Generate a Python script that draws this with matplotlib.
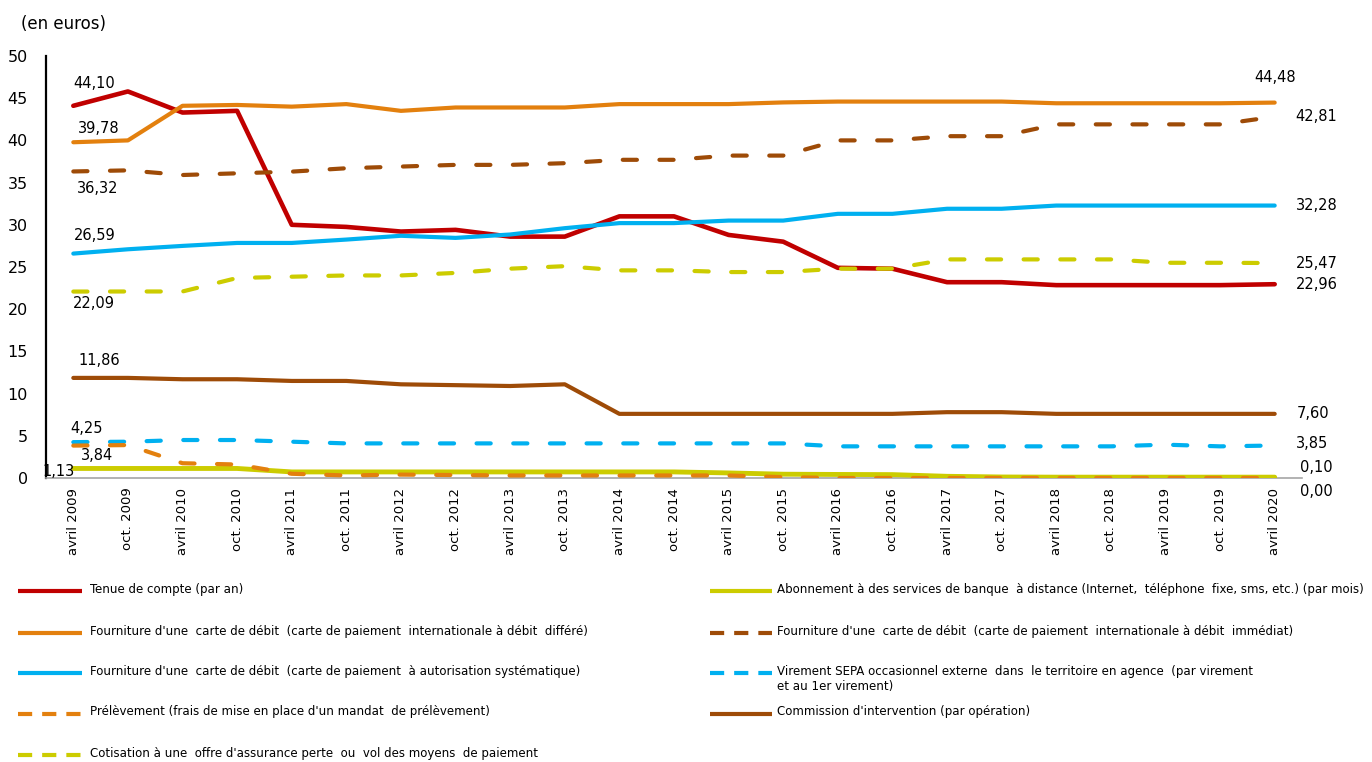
import matplotlib
matplotlib.use("Agg")
import matplotlib.pyplot as plt
import numpy as np

periods = ["avril 2009", "oct. 2009", "avril 2010", "oct. 2010", "avril 2011", "oct. 2011",
           "avril 2012", "oct. 2012", "avril 2013", "oct. 2013", "avril 2014", "oct. 2014",
           "avril 2015", "oct. 2015", "avril 2016", "oct. 2016", "avril 2017", "oct. 2017",
           "avril 2018", "oct. 2018", "avril 2019", "oct. 2019", "avril 2020"]

tenue = [44.10, 45.8, 43.3, 43.5, 30.0, 29.75, 29.2, 29.4, 28.6, 28.6, 31.0, 31.0,
         28.8, 28.0, 24.9, 24.8, 23.2, 23.2, 22.85, 22.85, 22.85, 22.85, 22.96]
abonnement = [1.13, 1.13, 1.13, 1.13, 0.72, 0.72, 0.72, 0.72, 0.72, 0.72, 0.72, 0.72,
              0.6, 0.45, 0.42, 0.4, 0.2, 0.12, 0.1, 0.1, 0.1, 0.1, 0.10]
differe = [39.78, 40.0, 44.1, 44.2, 44.0, 44.3, 43.5, 43.9, 43.9, 43.9, 44.3, 44.3,
           44.3, 44.5, 44.6, 44.6, 44.6, 44.6, 44.4, 44.4, 44.4, 44.4, 44.48]
immediat = [36.32, 36.45, 35.9, 36.1, 36.3, 36.7, 36.9, 37.1, 37.1, 37.3, 37.7, 37.7,
            38.2, 38.2, 40.0, 40.0, 40.5, 40.5, 41.9, 41.9, 41.9, 41.9, 42.81]
autorisation = [26.59, 27.1, 27.5, 27.85, 27.85, 28.25, 28.7, 28.45, 28.85, 29.6, 30.2, 30.2,
                30.5, 30.5, 31.3, 31.3, 31.9, 31.9, 32.28, 32.28, 32.28, 32.28, 32.28]
virement = [4.25, 4.3, 4.5, 4.5, 4.3, 4.1, 4.1, 4.1, 4.1, 4.1, 4.1, 4.1,
            4.1, 4.1, 3.75, 3.75, 3.75, 3.75, 3.75, 3.75, 3.95, 3.75, 3.85]
prelevement = [3.84, 3.9, 1.75, 1.6, 0.5, 0.3, 0.4, 0.35, 0.3, 0.3, 0.3, 0.3,
               0.3, 0.1, 0.0, 0.0, 0.0, 0.0, 0.0, 0.0, 0.0, 0.0, 0.00]
commission = [11.86, 11.86, 11.7, 11.7, 11.5, 11.5, 11.1, 11.0, 10.9, 11.1, 7.6, 7.6,
              7.6, 7.6, 7.6, 7.6, 7.8, 7.8, 7.6, 7.6, 7.6, 7.6, 7.60]
assurance = [22.09, 22.1, 22.1, 23.7, 23.85, 24.0, 24.0, 24.3, 24.8, 25.1, 24.6, 24.6,
             24.4, 24.4, 24.8, 24.8, 25.9, 25.9, 25.9, 25.9, 25.5, 25.5, 25.47]

labels = {
    "tenue": "Tenue de compte (par an)",
    "abonnement": "Abonnement à des services de banque  à distance (Internet,  téléphone  fixe, sms, etc.) (par mois)",
    "differe": "Fourniture d'une  carte de débit  (carte de paiement  internationale à débit  différé)",
    "immediat": "Fourniture d'une  carte de débit  (carte de paiement  internationale à débit  immédiat)",
    "autorisation": "Fourniture d'une  carte de débit  (carte de paiement  à autorisation systématique)",
    "virement": "Virement SEPA occasionnel externe  dans  le territoire en agence  (par virement\net au 1er virement)",
    "prelevement": "Prélèvement (frais de mise en place d'un mandat  de prélèvement)",
    "commission": "Commission d'intervention (par opération)",
    "assurance": "Cotisation à une  offre d'assurance perte  ou  vol des moyens  de paiement",
}

RED = "#C00000"
ORANGE = "#E3800E"
BROWN = "#9E4B07"
CYAN = "#00B0F0"
YELLOW = "#CCCC00"

series = [
    ("tenue", tenue, RED, "-", 3.3),
    ("abonnement", abonnement, YELLOW, "-", 3.5),
    ("differe", differe, ORANGE, "-", 3.0),
    ("immediat", immediat, BROWN, "--", 3.0),
    ("autorisation", autorisation, CYAN, "-", 3.0),
    ("virement", virement, CYAN, "--", 3.0),
    ("prelevement", prelevement, ORANGE, "--", 3.0),
    ("commission", commission, BROWN, "-", 3.0),
    ("assurance", assurance, YELLOW, "--", 3.0),
]

plt.rcParams['font.family'] = ['DejaVu Sans']

W, H = 1372, 762
fig = plt.figure(figsize=(W / 100, H / 100), dpi=100)
left_px, right_px, top_px, bot_px = 46, 1302, 56, 478
ax = fig.add_axes([left_px / W, 1 - bot_px / H, (right_px - left_px) / W, (bot_px - top_px) / H])

x = np.arange(len(periods))
for key, vals, col, ls, lw in series:
    if ls == "--":
        ax.plot(x, vals, color=col, lw=lw, linestyle=(0, (3.4, 5.4)),
                dash_capstyle="round", solid_joinstyle="round", zorder=3)
    else:
        ax.plot(x, vals, color=col, lw=lw, solid_capstyle="round",
                solid_joinstyle="round", zorder=3)

ax.set_xlim(-0.5, len(periods) - 0.5)
ax.set_ylim(0, 50)
ax.set_yticks(np.arange(0, 51, 5))
ax.tick_params(axis="y", length=0, labelsize=11.5, pad=13)
ax.set_xticks(x)
ax.set_xticklabels(periods, rotation=90, fontsize=9.5)
ax.tick_params(axis="x", length=0, pad=7)
for s in ["top", "right"]:
    ax.spines[s].set_visible(False)
ax.spines["left"].set_color("black")
ax.spines["left"].set_linewidth(1.6)
ax.spines["bottom"].set_color("#A6A6A6")
ax.spines["bottom"].set_linewidth(1.2)

fs = 10.5
def fmt(v):
    return f"{v:.2f}".replace(".", ",")

# start-of-series labels: (series values, dx, dy, ha)
start_labels = [
    (tenue, 21, 22, "center"),
    (differe, 25, 14, "center"),
    (immediat, 24, -17, "center"),
    (autorisation, 21, 18, "center"),
    (assurance, 21, -12, "center"),
    (commission, 26, 17, "center"),
    (virement, 13, 14, "center"),
    (prelevement, 24, -10, "center"),
    (abonnement, -15, -3, "center"),
]
for vals, dx, dy, ha in start_labels:
    ax.annotate(fmt(vals[0]), (x[0], vals[0]), xytext=(dx, dy), textcoords="offset pixels",
                ha=ha, va="center", fontsize=fs, zorder=5, annotation_clip=False)

end_labels = [
    (differe, 0, 25, "center"),
    (immediat, 21, 0, "left"),
    (autorisation, 21, 0, "left"),
    (assurance, 21, 0, "left"),
    (tenue, 21, 0, "left"),
    (commission, 22, 0, "left"),
    (virement, 21, 2, "left"),
    (abonnement, 25, 10, "left"),
    (prelevement, 25, -14, "left"),
]
for vals, dx, dy, ha in end_labels:
    ax.annotate(fmt(vals[-1]), (x[-1], vals[-1]), xytext=(dx, dy), textcoords="offset pixels",
                ha=ha, va="center", fontsize=fs, zorder=5, annotation_clip=False)

fig.text(21 / W, 1 - 24 / H, "(en euros)", fontsize=12, ha="left", va="center")

# legend drawn manually in pixel space
lax = fig.add_axes([0, 0, 1, 1], zorder=-1)
lax.set_xlim(0, W)
lax.set_ylim(H, 0)
lax.axis("off")
style = {k: (c, ls, lw) for k, _, c, ls, lw in series}
left_col = ["tenue", "differe", "autorisation", "prelevement", "assurance"]
right_col = ["abonnement", "immediat", "virement", "commission"]
rows_y = [591, 633, 673, 714, 755]
lfs = 9.45
for col_keys, hx0, hx1, tx in [(left_col, 18, 82, 90), (right_col, 710, 772, 777)]:
    for key, yy in zip(col_keys, rows_y):
        c, ls, lw = style[key]
        if ls == "--":
            lax.plot([hx0, hx1], [yy, yy], color=c, lw=3, linestyle=(0, (3.4, 2.4)),
                     dash_capstyle="butt")
        else:
            lax.plot([hx0, hx1], [yy, yy], color=c, lw=3, solid_capstyle="butt")
        lax.text(tx, yy - 8.5, labels[key], fontsize=lfs, ha="left", va="top",
                 fontstretch="condensed", linespacing=1.25)

fig.savefig("out.png", dpi=100)
